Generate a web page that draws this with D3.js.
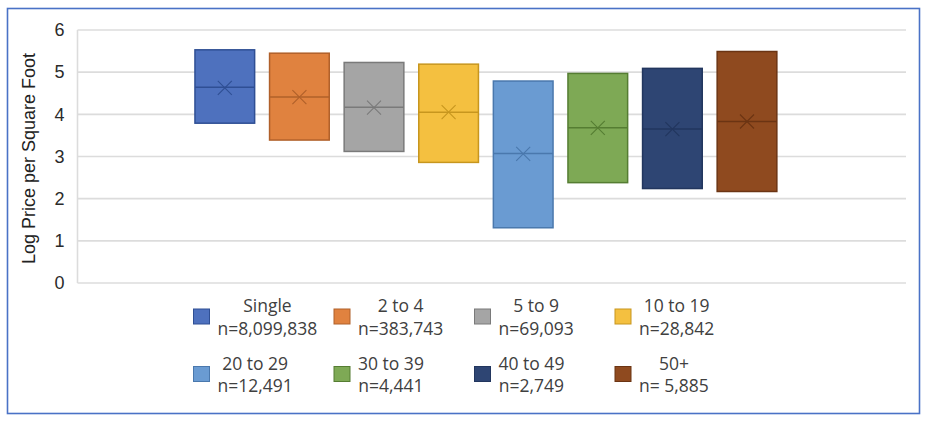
<!DOCTYPE html>
<html>
<head>
<meta charset="utf-8">
<script src="https://cdn.jsdelivr.net/npm/d3@7"></script>
<style>
	body { margin: 0; background: #fff; }
	svg { display: block; }
</style>
</head>
<body>
<div id="box-chart"><svg width="930" height="426"></svg></div>
<script>
// data
var categories = ["Single", "2 to 4", "5 to 9", "10 to 19", "20 to 29", "30 to 39", "40 to 49", "50+"];
var counts = ["n=8,099,838", "n=383,743", "n=69,093", "n=28,842", "n=12,491", "n=4,441", "n=2,749", "n= 5,885"];
var q3 = [5.53, 5.45, 5.23, 5.19, 4.79, 4.97, 5.09, 5.49];
var q1 = [3.79, 3.39, 3.12, 2.86, 1.31, 2.38, 2.24, 2.17];
var medians = [4.64, 4.41, 4.17, 4.05, 3.07, 3.68, 3.65, 3.83];
var means = [4.63, 4.41, 4.16, 4.05, 3.06, 3.68, 3.65, 3.83];
var yTicks = [0, 1, 2, 3, 4, 5, 6];

var fills = ["#4E71BE", "#E0823F", "#A5A5A5", "#F4C040", "#6A9BD2", "#7EA955", "#2E4573", "#8F4A1F"];
var strokes = ["#2F4F94", "#B0602A", "#7A7A7A", "#C7961E", "#4A78AD", "#557D32", "#22365E", "#6B3413"];

var svg = d3.select("#box-chart").select("svg");

// outer frame
svg.append("rect")
	.attr("x", 7.5)
	.attr("y", 8.5)
	.attr("width", 912)
	.attr("height", 405)
	.attr("fill", "#fff")
	.attr("stroke", "#4A72C6")
	.attr("stroke-width", 1.6);

var plot = {left: 77.5, right: 906, top: 30, bottom: 283};

var yrange = d3.scaleLinear()
	.domain([0, 6])
	.range([plot.bottom, plot.top]);

var xrange = d3.scaleBand()
	.domain(categories)
	.range([187.5, 784.3])
	.paddingInner(0.2)
	.paddingOuter(0.1);

// y-grid
svg.append("g")
	.selectAll("line")
	.data(yTicks)
	.enter()
	.append("line")
	.attr("x1", plot.left)
	.attr("x2", plot.right)
	.attr("y1", function(d) { return yrange(d); })
	.attr("y2", function(d) { return yrange(d); })
	.attr("stroke", "#DCDCDC")
	.attr("stroke-width", 1.6);

// y axis line
svg.append("line")
	.attr("x1", plot.left)
	.attr("x2", plot.left)
	.attr("y1", plot.top)
	.attr("y2", plot.bottom)
	.attr("stroke", "#DCDCDC")
	.attr("stroke-width", 1.6);

var yaxis = d3.axisLeft(yrange).tickValues(yTicks).tickSize(0).tickPadding(13).tickFormat(d3.format("d"));
var yg = svg.append("g")
	.attr("transform", "translate(" + plot.left + ",0)")
	.call(yaxis);
yg.select(".domain").remove();
yg.selectAll("text")
	.attr("fill", "#2b2b2b")
	.style("font-family", "'Liberation Sans', Arial, sans-serif")
	.style("font-size", "18px");

// text label for the y axis
svg.append("text")
	.attr("transform", "translate(35," + ((plot.top + plot.bottom) / 2 + 2) + ")rotate(-90)")
	.style("text-anchor", "middle")
	.style("font-family", "'Liberation Sans', Arial, sans-serif")
	.style("font-size", "18px")
	.attr("fill", "#222")
	.text("Log Price per Square Foot");

// boxes
var boxes = svg.append("g").selectAll("g")
	.data(categories)
	.enter()
	.append("g");

boxes.append("rect")
	.attr("x", function(d) { return xrange(d); })
	.attr("y", function(d, i) { return yrange(q3[i]); })
	.attr("width", xrange.bandwidth())
	.attr("height", function(d, i) { return yrange(q1[i]) - yrange(q3[i]); })
	.attr("fill", function(d, i) { return fills[i]; })
	.attr("stroke", function(d, i) { return strokes[i]; })
	.attr("stroke-width", 1.5);

// median line
boxes.append("line")
	.attr("x1", function(d) { return xrange(d); })
	.attr("x2", function(d) { return xrange(d) + xrange.bandwidth(); })
	.attr("y1", function(d, i) { return yrange(medians[i]); })
	.attr("y2", function(d, i) { return yrange(medians[i]); })
	.attr("stroke", function(d, i) { return strokes[i]; })
	.attr("stroke-width", 1.5);

// mean marker (x)
var mk = 7;
boxes.append("path")
	.attr("d", function(d, i) {
		var cx = xrange(d) + xrange.bandwidth() / 2, cy = yrange(means[i]);
		return "M" + (cx - mk) + "," + (cy - mk) + "L" + (cx + mk) + "," + (cy + mk)
			+ "M" + (cx - mk) + "," + (cy + mk) + "L" + (cx + mk) + "," + (cy - mk);
	})
	.attr("fill", "none")
	.attr("stroke", function(d, i) { return strokes[i]; })
	.attr("stroke-width", 1.1);

// legend, 4 per row
var legend = {x: 193.5, y: 309, colStep: 140.5, rowStep: 57.5, sq: 16};

var items = svg.append("g").selectAll("g")
	.data(categories)
	.enter()
	.append("g")
	.attr("transform", function(d, i) {
		return "translate(" + (legend.x + (i % 4) * legend.colStep) + "," + (legend.y + Math.floor(i / 4) * legend.rowStep) + ")";
	});

items.append("rect")
	.attr("width", legend.sq)
	.attr("height", 15)
	.attr("fill", function(d, i) { return fills[i]; })
	.attr("stroke", function(d, i) { return strokes[i]; })
	.attr("stroke-width", 1);

items.each(function(d, i) {
	var g = d3.select(this);
	var t1 = g.append("text").attr("y", 3).text(d);
	var t2 = g.append("text").attr("y", 25.5).text(counts[i]);
	g.selectAll("text")
		.style("font-family", "'Open Sans', 'Noto Sans', sans-serif")
		.style("font-size", "17.5px")
		.attr("fill", "#404040")
		.style("text-anchor", "middle");
	var w = Math.max(t1.node().getComputedTextLength(), t2.node().getComputedTextLength());
	g.selectAll("text").attr("x", legend.sq + 8 + w / 2);
});
</script>
</body>
</html>
